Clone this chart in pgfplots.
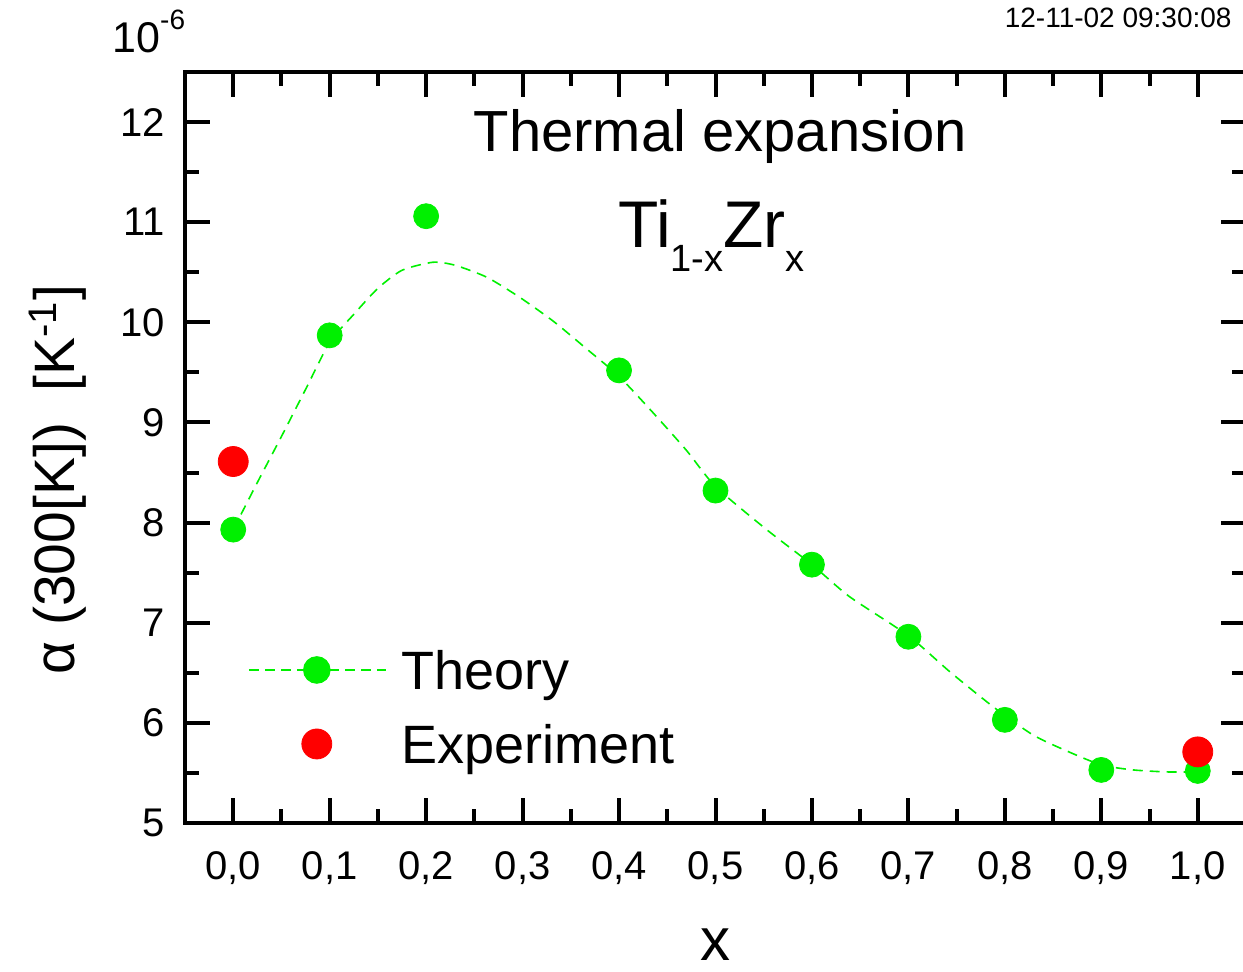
\documentclass[border=0pt]{standalone}
\usepackage{pgfplots}
\pgfplotsset{compat=1.18}
\usepackage{fontspec}
\setmainfont{Liberation Sans}
\definecolor{tgreen}{RGB}{0,240,0}
\definecolor{ered}{RGB}{255,0,0}
\begin{document}
\begin{tikzpicture}
\path[use as bounding box] (-92.5pt,-74.5pt) rectangle (529pt,411.5pt);
\begin{axis}[
  at={(0,0)}, anchor=south west,
  scale only axis, width=530.5pt, height=375.5pt,
  xmin=-0.05, xmax=1.05, ymin=5, ymax=12.5,
  clip=false,
  axis line style={line width=2.3pt},
  tick style={black, line width=2pt},
  major tick length=12.5pt, minor tick length=7pt,
  tick align=inside,
  xtick={0,0.1,0.2,0.3,0.4,0.5,0.6,0.7,0.8,0.9,1.0},
  minor xtick={0.05,0.15,0.25,0.35,0.45,0.55,0.65,0.75,0.85,0.95},
  ytick={5,6,7,8,9,10,11,12},
  minor ytick={5.5,6.5,7.5,8.5,9.5,10.5,11.5},
  scaled y ticks=false,
  xticklabel style={font=\fontsize{20}{24}\selectfont, inner sep=0pt, /pgf/number format/.cd, use comma, fixed, fixed zerofill, precision=1},
  yticklabel style={font=\fontsize{20}{24}\selectfont, inner sep=0pt},
  xticklabel shift=14pt,
  yticklabel shift=10pt,
  /pgf/number format/assume math mode=true,
  xlabel={x},
  ylabel={α (300[K])\ \ [K\textsuperscript{-1}]},
  every axis x label/.style={at={(axis description cs:0.5,-0.1825)}, anchor=base, font=\fontsize{30}{36}\selectfont},
  every axis y label/.style={at={(axis description cs:-0.1197,0.457)}, rotate=90, anchor=center, font=\fontsize{28.5}{34}\selectfont},
  legend style={draw=none, fill=none, at={(0.0594,0.2304)}, anchor=north west, inner sep=0pt, outer sep=0pt,
    font=\fontsize{27}{32}\selectfont, row sep=9pt,
    nodes={inner sep=0pt, text height=20pt, text depth=8pt, anchor=base west},
    /tikz/every odd column/.append style={column sep=7.5pt}},
  legend image code/.code={\draw[mark repeat=2, mark phase=2, #1] plot coordinates {(0pt,10pt) (34pt,10pt) (68.5pt,10pt)};},
]
\addlegendimage{tgreen, line width=0.8pt, dash pattern=on 5pt off 3pt, mark=*, mark size=6.5pt, mark options={solid}}
\addlegendentry{Theory}
\addlegendimage{only marks, mark=*, ered, mark size=7.5pt}
\addlegendentry{Experiment}

\addplot[forget plot, tgreen, line width=0.8pt, dash pattern=on 5pt off 3.5pt, smooth, tension=0.4] coordinates {
(0.000,7.93) (0.025,8.40) (0.050,8.86) (0.075,9.33) (0.100,9.80) (0.125,10.08) (0.150,10.34) (0.175,10.52) (0.207,10.60) (0.230,10.57) (0.263,10.45) (0.297,10.25) (0.332,10.01) (0.367,9.73) (0.400,9.46) (0.435,9.10) (0.470,8.72) (0.500,8.36) (0.553,7.93) (0.600,7.58) (0.639,7.26) (0.700,6.87) (0.743,6.51) (0.788,6.16) (0.829,5.88) (0.864,5.72) (0.900,5.58) (0.933,5.53) (0.968,5.51) (1.000,5.51)
};
\addplot[forget plot, only marks, mark=*, tgreen, mark size=6.25pt] coordinates {
(0,7.93) (0.1,9.87) (0.2,11.06) (0.4,9.52) (0.5,8.32) (0.6,7.58) (0.7,6.86) (0.8,6.03) (0.9,5.53) (1.0,5.52)
};
\addplot[forget plot, only marks, mark=*, ered, mark size=7.5pt] coordinates {
(0,8.61) (1.0,5.71)
};

\node[anchor=base, font=\fontsize{29}{34}\selectfont] at (axis cs:0.505,11.71) {Thermal expansion};
\node[anchor=base, font=\fontsize{33}{38}\selectfont] at (axis cs:0.496,10.75) {Ti\raisebox{-12pt}{\fontsize{19}{22}\selectfont 1-x}Zr\raisebox{-12pt}{\fontsize{19}{22}\selectfont x}};
\node[anchor=base east, font=\fontsize{14}{17}\selectfont, inner sep=0pt] at (axis description cs:0.9868,1.0586) {12-11-02 09:30:08};
\node[anchor=base west, font=\fontsize{21.5}{25}\selectfont, inner sep=0pt] at (axis description cs:-0.0688,1.0266) {10\raisebox{11.5pt}{\fontsize{14}{16}\selectfont -6}};
\end{axis}
\end{tikzpicture}
\end{document}
